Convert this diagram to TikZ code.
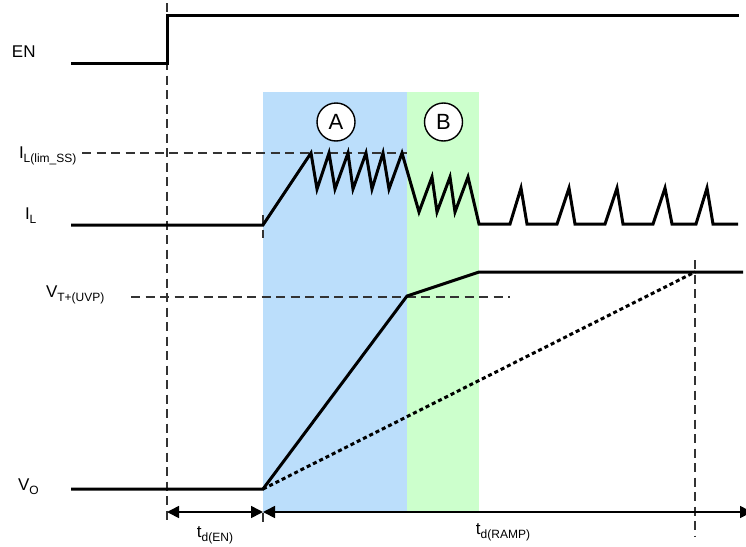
\documentclass[tikz,border=0pt]{standalone}
\usepackage{fontspec}
\setmainfont{Liberation Sans}
\usetikzlibrary{arrows.meta}
\definecolor{phaseA}{RGB}{187,222,251}
\definecolor{phaseB}{RGB}{204,255,204}
\newcommand{\sig}[2]{{\fontsize{17}{20}\selectfont #1}\raisebox{-4pt}{\fontsize{12}{14}\selectfont #2}}
\tikzset{
  wave/.style={line width=3pt, line join=miter, line cap=butt},
  guide/.style={line width=1.2pt, dash pattern=on 9pt off 5.5pt, black!80},
  slow/.style={line width=3pt, dash pattern=on 4pt off 3pt},
  lbl/.style={anchor=base west, inner sep=0pt, outer sep=0pt},
  tlbl/.style={anchor=base, inner sep=0pt, outer sep=0pt},
  phase/.style={circle, draw, line width=1.4pt, fill=white, minimum size=38pt, inner sep=0pt, font=\fontsize{22}{24}\selectfont},
  span/.style={line width=1.6pt, {Triangle[length=12pt,width=12pt]}-{Triangle[length=12pt,width=12pt]}}
}
\begin{document}
\begin{tikzpicture}[x=1pt,y=-1pt]
\useasboundingbox (0,0) rectangle (746,546);
% phase backgrounds
\fill[phaseA] (263,92) rectangle (407,513);
\fill[phaseB] (407,92) rectangle (479,513);
% guides
\coordinate (g0t) at (167,3); \coordinate (g0b) at (167,523);
\coordinate (g1t) at (263,215); \coordinate (g1b) at (263,523);
\coordinate (g2t) at (695,260); \coordinate (g2b) at (695,537);
\draw[guide] (g0t) -- (g0b);
\draw[guide] (263,513) -- (g1b);
\draw[guide] (g1t) -- (263,238);
\draw[guide] (g2t) -- (g2b);
\coordinate (lim0) at (82,153); \coordinate (lim1) at (407,153);
\draw[guide] (lim0) -- (lim1);
\coordinate (uvp0) at (131,297); \coordinate (uvp1) at (510,297);
\draw[guide] (uvp0) -- (uvp1);
% EN
\draw[wave] (71,63) -- (167,63) -- (167,15) -- (739,15);
% IL
\draw[wave] (71,225) -- (263,225) -- (311,153) -- (317,189) -- (329,153) -- (335,189) -- (348,153)
  -- (353,189) -- (366,153) -- (372,189) -- (383,153) -- (389,189) -- (402,153)
  -- (419,212) -- (432,177) -- (437,212) -- (450,177) -- (455,212) -- (468,177) -- (479,224)
  -- (510,224) -- (521,188) -- (527,224)
  -- (557,224) -- (569,188) -- (575,224)
  -- (605,224) -- (617,188) -- (623,224)
  -- (653,224) -- (665,188) -- (672,224)
  -- (696,224) -- (707,188) -- (713,224) -- (738,224);
% VO
\coordinate (vo0) at (263,489);
\coordinate (vo2) at (695,272);
\draw[wave] (71,489) -- (vo0) -- (407,296) -- (479,272) -- (743,272);
\draw[slow] (vo0) -- (vo2);
% phase markers
\node[phase] (A) at (336,122) {A};
\node[phase] (B) at (443.5,122) {B};
% labels
\node[lbl] (en) at (12,57) {\fontsize{17}{20}\selectfont EN};
\node[lbl] (ilim) at (19,158) {\sig{I}{L(lim\_SS)}};
\node[lbl] (il) at (25,219) {\sig{I}{L}};
\node[lbl] (vuvp) at (46,297) {\sig{V}{T+(UVP)}};
\node[lbl] (vo) at (18,490) {\sig{V}{O}};
% time spans
\coordinate (s0) at (167,512);
\coordinate (s1) at (263,512);
\coordinate (s2) at (752,512);
\draw[span] (s0) -- (s1);
\draw[span] (s1) -- (s2);
\node[tlbl] (ten) at (215,537) {\sig{t}{d(EN)}};
\node[tlbl] (tramp) at (503,534) {\sig{t}{d(RAMP)}};
\end{tikzpicture}
\end{document}
